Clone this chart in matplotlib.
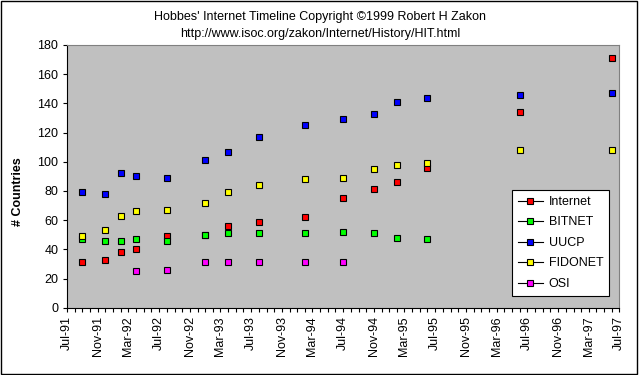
import datetime as dt
import matplotlib
matplotlib.use("Agg")
import matplotlib.pyplot as plt
import matplotlib.dates as mdates
from matplotlib.lines import Line2D
from matplotlib.patches import Rectangle

plt.rcParams['font.family'] = ['Liberation Sans', 'DejaVu Sans']
plt.rcParams['font.size'] = 9

# survey dates (year, month)
dates = [(1991, 9), (1991, 12), (1992, 2), (1992, 4), (1992, 8), (1993, 1),
         (1993, 4), (1993, 8), (1994, 2), (1994, 7), (1994, 11), (1995, 2),
         (1995, 6), (1996, 6), (1997, 6)]

internet = [31, 33, 38, 40, 49, 50, 56, 59, 62, 75, 81, 86, 96, 134, 171]
bitnet = [47, 46, 46, 47, 46, 50, 51, 51, 51, 52, 51, 48, 47, None, None]
uucp = [79, 78, 92, 90, 89, 101, 107, 117, 125, 129, 133, 141, 144, 146, 147]
fidonet = [49, 53, 63, 66, 67, 72, 79, 84, 88, 89, 95, 98, 99, 108, 108]
osi = [None, None, None, 25, 26, 31, 31, 31, 31, 31, None, None, None, None, None]

series = [("Internet", internet, "#FF0000"),
          ("BITNET", bitnet, "#00FF00"),
          ("UUCP", uucp, "#0000FF"),
          ("FIDONET", fidonet, "#FFFF00"),
          ("OSI", osi, "#FF00FF")]

W, H = 641, 375
fig = plt.figure(figsize=(W / 100, H / 100), dpi=100)
ax = fig.add_axes([66.7 / W, 1 - 307.7 / H, (619.3 - 66.7) / W, (307.7 - 45) / H])
ax.set_facecolor("#C0C0C0")

xs = [dt.date(y, m, 1) for y, m in dates]
handles = []
for name, vals, col in series:
    px = [x for x, v in zip(xs, vals) if v is not None]
    py = [v for v in vals if v is not None]
    ax.plot(px, py, linestyle="none", marker="s", markersize=4.3,
            markerfacecolor=col, markeredgecolor="black", markeredgewidth=0.8)
    handles.append(Line2D([], [], color="black", linewidth=0.8, marker="s",
                          markersize=4.3, markerfacecolor=col,
                          markeredgecolor="black", markeredgewidth=0.8, label=name))

ax.set_xlim(dt.date(1991, 7, 1), dt.date(1997, 7, 1))
ax.set_ylim(0, 180)
ax.set_yticks(range(0, 181, 20))

ax.xaxis.set_major_locator(mdates.MonthLocator(bymonth=[3, 7, 11]))
ax.xaxis.set_major_formatter(mdates.DateFormatter("%b-%y"))
ax.xaxis.set_minor_locator(mdates.MonthLocator())
ax.tick_params(axis="x", which="both", direction="out", length=3, width=0.8, pad=3,
               labelrotation=90)
ax.tick_params(axis="y", direction="out", length=3, width=0.8, pad=3)

for s in ("top", "right"):
    ax.spines[s].set_color("#808080")
for s in ("left", "bottom"):
    ax.spines[s].set_color("black")
for s in ax.spines.values():
    s.set_linewidth(0.8)

leg = fig.legend(handles=handles, loc="upper left",
                 bbox_to_anchor=(512.3 / W, 1 - 190.3 / H), borderaxespad=0,
                 frameon=True, fancybox=False, edgecolor="black",
                 handlelength=2.0, handletextpad=0.45, labelspacing=0.68,
                 borderpad=0.45, fontsize=9)
leg.get_frame().set_linewidth(0.8)
leg.get_frame().set_facecolor("white")
leg.get_frame().set_alpha(1)

fig.text(0.5, 1 - 17 / H, "Hobbes' Internet Timeline Copyright \u00a91999 Robert H Zakon",
         ha="center", va="center", fontsize=9)
fig.text(0.5, 1 - 34 / H, "http://www.isoc.org/zakon/Internet/History/HIT.html",
         ha="center", va="center", fontsize=9)
fig.text(18 / W, 1 - 192 / H, "# Countries", rotation=90, ha="center", va="center",
         fontsize=9, fontweight="bold")

fig.patches.append(Rectangle((0.5 / W, 1.5 / H), 636.5 / W, (H - 2.5) / H,
                             transform=fig.transFigure, fill=False,
                             edgecolor="black", linewidth=1))

fig.savefig("out.png", dpi=100)
